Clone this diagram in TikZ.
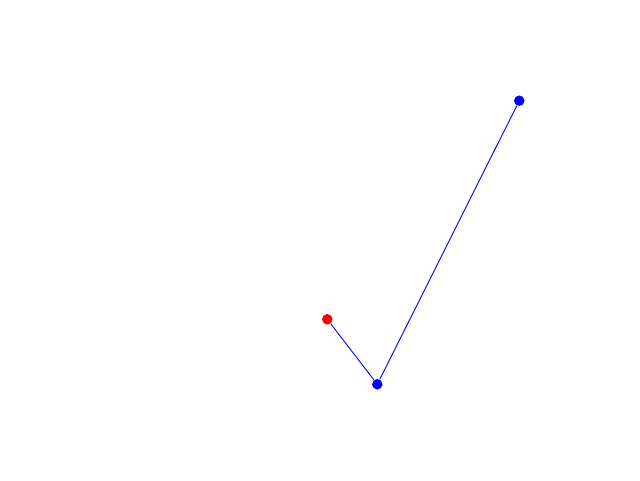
\documentclass[tikz,border=0pt]{standalone}
\begin{document}
\begin{tikzpicture}[x=1pt,y=-1pt,
  dotpt/.style={circle,fill=#1,inner sep=0pt,minimum size=10.5pt},
  conn/.style={draw=blue,line width=0.9pt}]
\useasboundingbox[fill=white] (0,0) rectangle (640,480);
\node[dotpt=red] (r) at (327.3,319.3) {};
\node[dotpt=blue] (b) at (377.3,384.3) {};
\node[dotpt=blue] (t) at (519.3,100.7) {};
\draw[conn] (r) -- (b);
\draw[conn] (b) -- (t);
\end{tikzpicture}
\end{document}
